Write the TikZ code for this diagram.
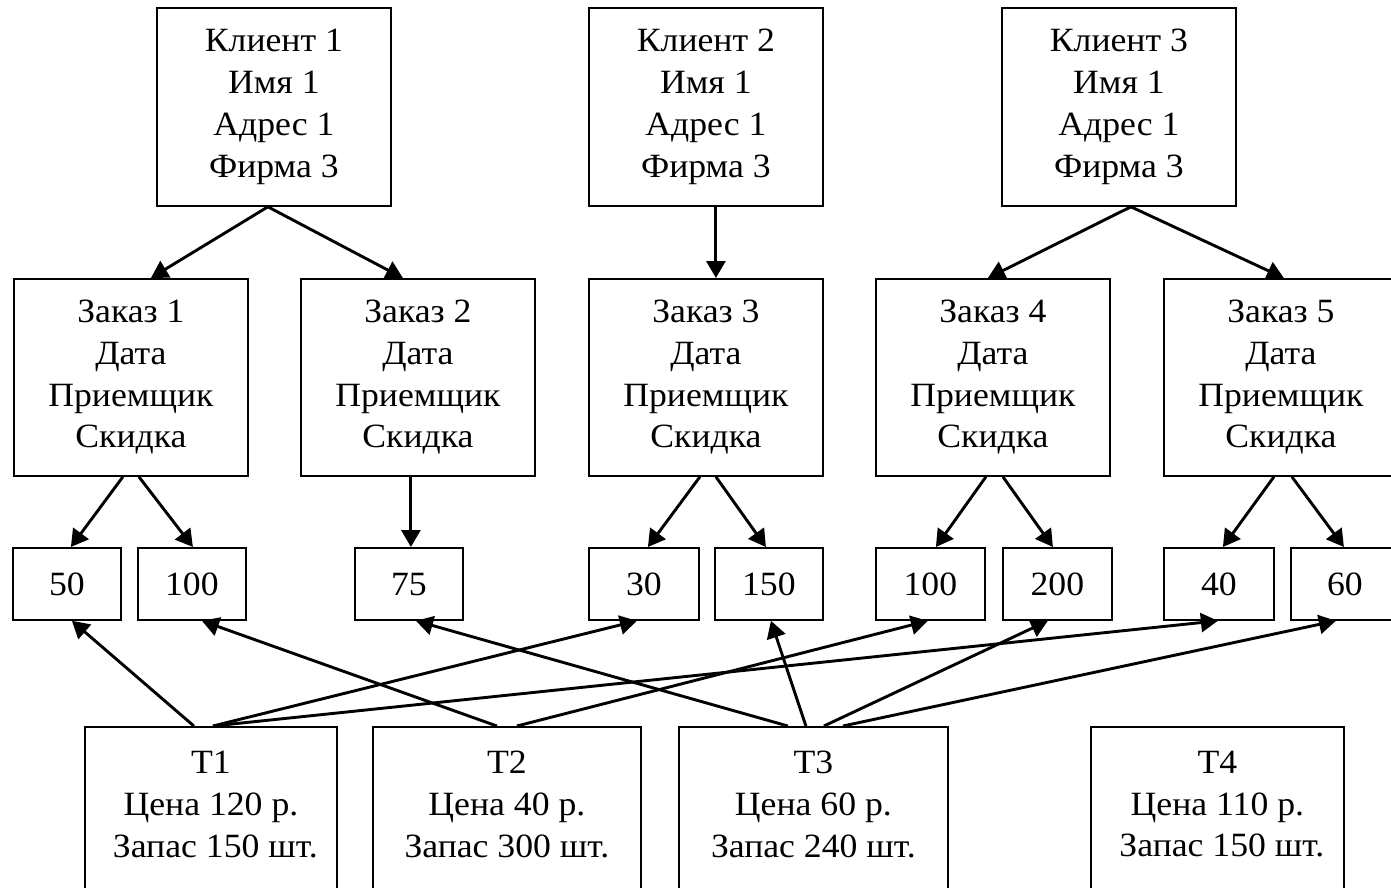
\documentclass[tikz,border=0pt]{standalone}
\usepackage{fontspec}
\setmainfont[FakeStretch=1.05]{Liberation Serif}
\usetikzlibrary{arrows.meta,calc}
\begin{document}
\begin{tikzpicture}[x=1pt,y=-1pt,
  box/.style={draw, line width=1.8pt, inner sep=0pt, align=center, anchor=north west,
    font=\fontsize{34}{41.7}\selectfont},
  big/.style={box, minimum width=234pt, minimum height=197pt},
  small/.style={box, minimum height=72pt, text height=23pt, text depth=0pt},
  txt/.style={inner sep=0pt, align=center, anchor=north, font=\fontsize{34}{41.7}\selectfont},
  arr/.style={line width=2.9pt, -{Triangle[length=17pt,width=19pt]}}]
\useasboundingbox (0,0) rectangle (1391,887);
\clip (0,0) rectangle (1391,887);
% clients
\node[big, minimum height=198pt] (k1) at (156,7) {Клиент 1\\Имя 1\\Адрес 1\\Фирма 3};
\node[big, minimum height=198pt] (k2) at (588,7) {Клиент 2\\Имя 1\\Адрес 1\\Фирма 3};
\node[big, minimum height=198pt] (k3) at (1001,7) {Клиент 3\\Имя 1\\Адрес 1\\Фирма 3};
% orders
\node[big] (z1) at (13,278) {Заказ 1\\Дата\\Приемщик\\Скидка};
\node[big] (z2) at (300,278) {Заказ 2\\Дата\\Приемщик\\Скидка};
\node[big] (z3) at (588,278) {Заказ 3\\Дата\\Приемщик\\Скидка};
\node[big] (z4) at (875,278) {Заказ 4\\Дата\\Приемщик\\Скидка};
\node[big] (z5) at (1163,278) {Заказ 5\\Дата\\Приемщик\\Скидка};
% quantities
\node[small, minimum width=108pt] (s50) at (12,547) {50};
\node[small, minimum width=108pt] (s100a) at (137,547) {100};
\node[small, minimum width=108pt] (s75) at (354,547) {75};
\node[small, minimum width=110pt] (s30) at (588,547) {30};
\node[small, minimum width=108pt] (s150) at (714,547) {150};
\node[small, minimum width=109pt] (s100b) at (875,547) {100};
\node[small, minimum width=109pt] (s200) at (1002,547) {200};
\node[small, minimum width=110pt] (s40) at (1163,547) {40};
\node[small, minimum width=108pt] (s60) at (1290,547) {60};
% goods
\node[box, minimum width=252pt, minimum height=200pt] (t1) at (84,726) {};
\node[box, minimum width=268pt, minimum height=200pt] (t2) at (372,726) {};
\node[box, minimum width=269pt, minimum height=200pt] (t3) at (678,726) {};
\node[box, minimum width=253pt, minimum height=200pt] (t4) at (1090,726) {};
\node[txt] (t1x) at ([yshift=-25pt]t1.north) {T1\\Цена 120 р.\\\ Запас 150 шт.};
\node[txt] (t2x) at ([yshift=-25pt]t2.north) {T2\\Цена 40 р.\\Запас 300 шт.};
\node[txt] (t3x) at ([yshift=-25pt]t3.north) {T3\\Цена 60 р.\\Запас 240 шт.};
\node[txt] (t4x) at ([yshift=-25pt]t4.north) {T4\\Цена 110 р.\\\ Запас 150 шт.};
% client -> order
\draw[arr] ([xshift=-6pt]k1.south) -- ([xshift=20pt]z1.north);
\draw[arr] ([xshift=-6pt]k1.south) -- ([xshift=-15pt]z2.north);
\draw[arr] ([xshift=10pt]k2.south) -- ([xshift=10pt]z3.north);
\draw[arr] ([xshift=12pt]k3.south) -- ([xshift=-5pt]z4.north);
\draw[arr] ([xshift=12pt]k3.south) -- ([xshift=3pt]z5.north);
% order -> quantity
\draw[arr] ([xshift=-8pt]z1.south) -- ([xshift=4pt]s50.north);
\draw[arr] ([xshift=8pt]z1.south) -- ([xshift=1pt]s100a.north);
\draw[arr] ([xshift=-7pt]z2.south) -- ([xshift=2pt]s75.north);
\draw[arr] ([xshift=-6pt]z3.south) -- ([xshift=4pt]s30.north);
\draw[arr] ([xshift=10pt]z3.south) -- ([xshift=-3pt]s150.north);
\draw[arr] ([xshift=-7pt]z4.south) -- ([xshift=5.5pt]s100b.north);
\draw[arr] ([xshift=10pt]z4.south) -- ([xshift=-4.5pt]s200.north);
\draw[arr] ([xshift=-7pt]z5.south) -- ([xshift=4pt]s40.north);
\draw[arr] ([xshift=11pt]z5.south) -- ([xshift=-1pt]s60.north);
% goods -> quantity
\draw[arr] ([xshift=-17pt]t1.north) -- ([xshift=5pt]s50.south);
\draw[arr] ([xshift=2pt]t1.north) -- ([xshift=-7pt]s30.south);
\draw[arr] ([xshift=2pt]t1.north) -- ([xshift=-1pt]s40.south);
\draw[arr] ([xshift=-10pt]t2.north) -- ([xshift=10pt]s100a.south);
\draw[arr] ([xshift=10pt]t2.north) -- ([xshift=-2.5pt]s100b.south);
\draw[arr] ([xshift=-25.5pt]t3.north) -- ([xshift=7pt]s75.south);
\draw[arr] ([xshift=-7.5pt]t3.north) -- ([xshift=2pt]s150.south);
\draw[arr] ([xshift=10.5pt]t3.north) -- ([xshift=-9.5pt]s200.south);
\draw[arr] ([xshift=29.5pt]t3.north) -- ([xshift=-9pt]s60.south);
\end{tikzpicture}
\end{document}
